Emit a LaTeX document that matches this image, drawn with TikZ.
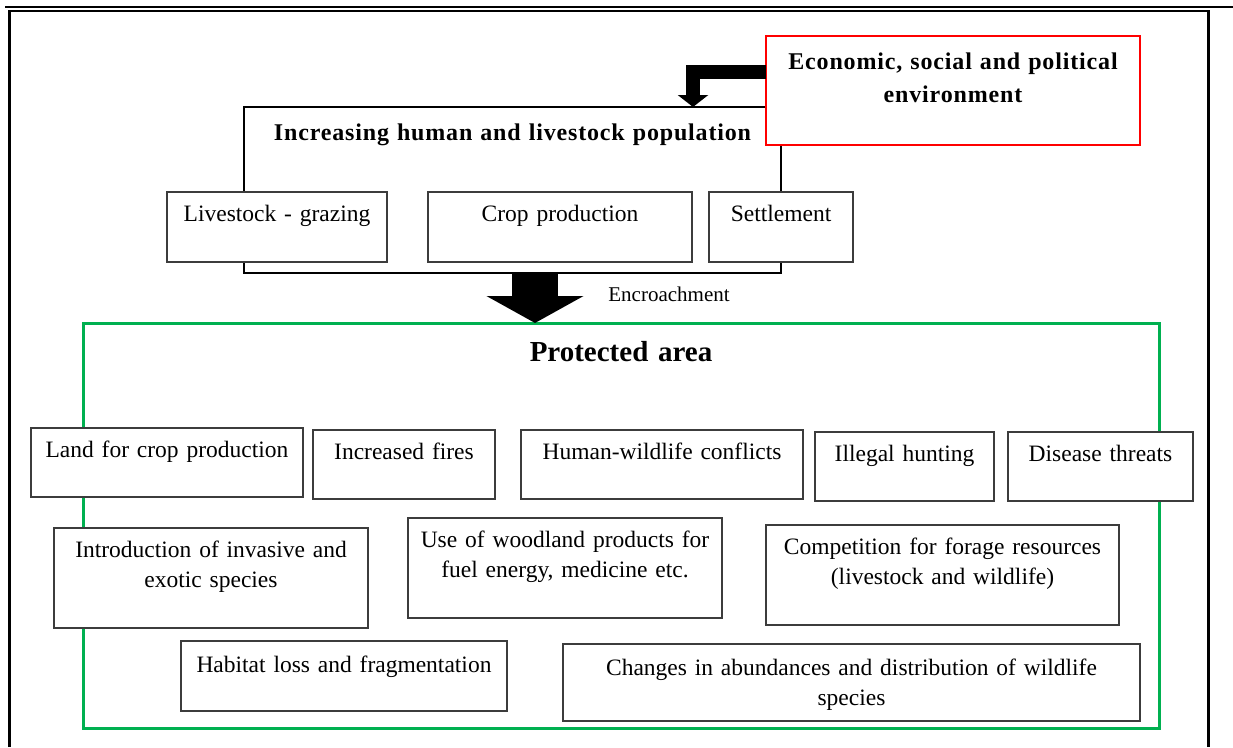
\documentclass[tikz,border=0pt]{standalone}
\usepackage{fontspec}
\setmainfont{Liberation Serif}
\newfontfamily\spacedfont[LetterSpace=3.5]{Liberation Serif}
\usetikzlibrary{arrows.meta,positioning}
\definecolor{envred}{RGB}{255,0,0}
\definecolor{areagreen}{RGB}{0,176,80}
\definecolor{boxline}{RGB}{60,60,60}

\begin{document}
\begin{tikzpicture}[
    x=1pt, y=-1pt,
    every node/.style={outer sep=0pt, inner sep=0pt},
    impact/.style={rectangle, draw=boxline, line width=1.1pt, fill=white, anchor=north,
                   align=center, text height=29pt, font=\fontsize{23.5}{30.5}\selectfont},
    heading/.style={rectangle, anchor=north, align=center, text height=33pt,
                    font=\spacedfont\bfseries\fontsize{24}{33}\selectfont},
    frame/.style={line width=2.4pt},
    bigarr/.style={line width=46pt, -{Triangle[width=96pt, length=27pt]}},
    elbow/.style={line width=14pt, -{Triangle[width=30pt, length=12pt]}},
]
    \useasboundingbox (0,0) rectangle (1233,747);
    \draw[frame] (5,6.8) -- (1233,6.8);
    \draw[frame] (9.5,747) -- (9.5,11.2) -- (1208.5,11.2) -- (1208.5,747);

    \node[heading, draw, line width=2.6pt, text width=537pt, text depth=133pt] (pop) at (512.5,107)
        {Increasing human and livestock population};
    \node[impact, text width=220pt, text depth=41pt] (grazing) at (277,192) {Livestock - grazing};
    \node[impact, text width=264pt, text depth=41pt] (crop) at (560,192) {Crop production};
    \node[impact, text width=144pt, text depth=41pt] (settle) at (781,192) {Settlement};

    \node[heading, draw=envred, line width=2.2pt, fill=white, text width=374pt, text depth=76pt] (econ) at (953,36)
        {Economic, social and political\\environment};
    \coordinate (drop) at (693,0);
    \draw[elbow] (econ.west |- 0,71.5) -| (pop.north -| drop);

    \node[rectangle, draw=areagreen, line width=3pt, anchor=north, align=center, text width=1076pt,
          text height=38pt, text depth=367pt, font=\bfseries\fontsize{29}{35}\selectfont] (prot) at (621,323)
        {Protected area};
    \coordinate (enc) at (535,0);
    \draw[bigarr] (pop.south -| enc) -- (prot.north -| enc);
    \node[anchor=base, font=\fontsize{21}{25}\selectfont] (enclabel) at (669,301) {Encroachment};

    \node[impact, text width=272pt, text depth=40pt] (land) at (167,428) {Land for crop production};
    \node[impact, text width=182pt, text depth=40pt] (fires) at (404,430) {Increased fires};
    \node[impact, text width=282pt, text depth=40pt] (conflict) at (662,430) {Human-wildlife conflicts};
    \node[impact, text width=179pt, text depth=40pt] (hunting) at (904.5,432) {Illegal hunting};
    \node[impact, text width=185pt, text depth=40pt] (disease) at (1100.5,432) {Disease threats};

    \node[impact, text width=314pt, text depth=71pt] (invasive) at (211,528)
        {Introduction of invasive and\\exotic species};
    \node[impact, text width=314pt, text depth=71pt] (woodland) at (565,518)
        {Use of woodland products for\\fuel energy, medicine etc.};
    \node[impact, text width=353pt, text depth=71pt] (forage) at (942.5,525)
        {Competition for forage resources\\(livestock and wildlife)};

    \node[impact, text width=326pt, text height=31pt, text depth=39pt] (habitat) at (344,641)
        {Habitat loss and fragmentation};
    \node[impact, text width=577pt, text height=31pt, text depth=46pt] (changes) at (851.5,644)
        {Changes in abundances and distribution of wildlife\\species};
\end{tikzpicture}
\end{document}
